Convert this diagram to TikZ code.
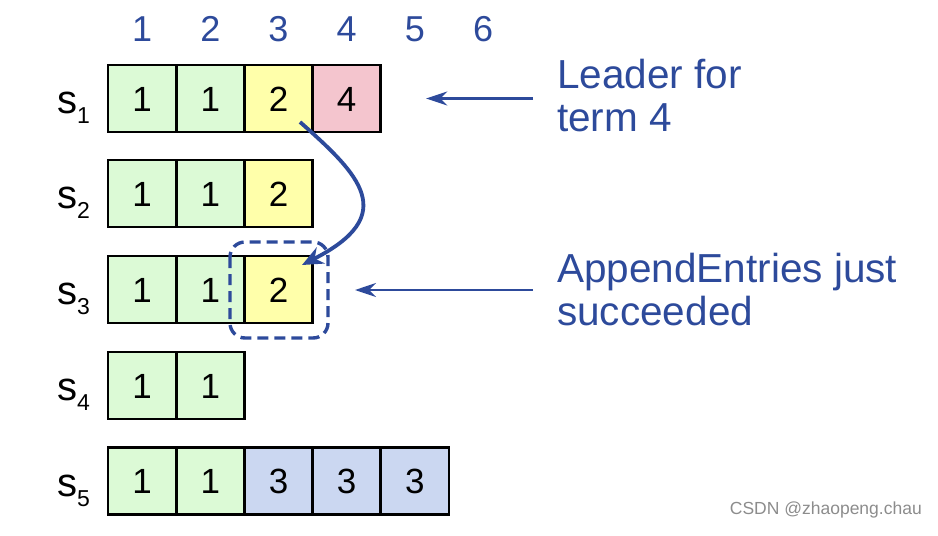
\documentclass[tikz,border=0pt]{standalone}
\usepackage{fontspec}
\setmainfont{Liberation Sans}
\usetikzlibrary{arrows.meta}
\definecolor{lblue}{HTML}{2D4A9B}
\definecolor{cgreen}{HTML}{DCFAD6}
\definecolor{cyellow}{HTML}{FFFFAA}
\definecolor{cpink}{HTML}{F4C5CE}
\definecolor{cblue}{HTML}{CBD7F1}
\tikzset{
  cellbox/.style={draw=black, line width=2.8pt, minimum width=68.2pt, minimum height=67pt,
    inner sep=0pt, text height=25pt, text depth=0pt, font=\fontsize{35}{35}\selectfont},
  gcell/.style={cellbox, fill=cgreen},
  ycell/.style={cellbox, fill=cyellow},
  pcell/.style={cellbox, fill=cpink},
  bcell/.style={cellbox, fill=cblue},
  hdr/.style={anchor=base, text=lblue, inner sep=0pt, font=\fontsize{36}{36}\selectfont},
  srv/.style={anchor=base west, inner sep=0pt, font=\fontsize{40}{40}\selectfont},
  note/.style={anchor=north west, inner sep=0pt, align=left, text=lblue, font=\fontsize{40.5}{42.5}\selectfont},
  thinarr/.style={draw=lblue, line width=2.4pt, -{Stealth[length=21pt,width=14pt]}},
  curvearr/.style={draw=lblue, line width=3.8pt, -{Stealth[length=21pt,width=18pt]}},
  dashbox/.style={draw=lblue, line width=3.4pt, dash pattern=on 11pt off 6pt, rounded corners=15pt}
}
\newcommand{\sub}[1]{\raisebox{-10pt}{\fontsize{23}{23}\selectfont #1}}
\begin{document}
\begin{tikzpicture}[x=1pt,y=-1pt]
\useasboundingbox (0,0) rectangle (938,536);
% column headers
\foreach \i in {1,...,6} {
  \node[hdr] (h\i) at ({108+68.2*(\i-0.5)},41) {\i};
}
% server labels
\foreach \i/\yy in {1/113,2/208,3/304,4/400,5/496} {
  \node[srv] (s\i) at (57,\yy) {s\sub{\i}};
}
% s1
\node[gcell] (c11) at (142.1,98.5) {1};
\node[gcell] (c12) at (210.3,98.5) {1};
\node[ycell] (c13) at (278.5,98.5) {2};
\node[pcell] (c14) at (346.7,98.5) {4};
% s2
\node[gcell] (c21) at (142.1,193.5) {1};
\node[gcell] (c22) at (210.3,193.5) {1};
\node[ycell] (c23) at (278.5,193.5) {2};
% s3
\node[gcell] (c31) at (142.1,289.5) {1};
\node[gcell] (c32) at (210.3,289.5) {1};
\node[ycell] (c33) at (278.5,289.5) {2};
% s4
\node[gcell] (c41) at (142.1,385.5) {1};
\node[gcell] (c42) at (210.3,385.5) {1};
% s5
\node[gcell] (c51) at (142.1,481) {1};
\node[gcell] (c52) at (210.3,481) {1};
\node[bcell] (c53) at (278.5,481) {3};
\node[bcell] (c54) at (346.7,481) {3};
\node[bcell] (c55) at (414.9,481) {3};
% dashed highlight
\draw[dashbox] (230,242) rectangle (328,338);
\coordinate (dbeast) at (328,290);
% notes
\node[note] (lead) at (557,59) {Leader for\\term 4};
\node[note] (app) at (557,253) {AppendEntries just\\succeeded};
\coordinate (lt) at (533,98.5);
\coordinate (at) at (533,290);
\draw[thinarr] (lt) -- ([xshift=44pt]c14.east);
\draw[thinarr] (at) -- ([xshift=27pt]dbeast);
% curved arrow
\coordinate (cs) at (300,122);
\coordinate (ce) at (302,265);
\draw[curvearr] (cs) .. controls (360,175) and (400,215) .. (ce);
% watermark
\node[anchor=base east, inner sep=0pt, text=black!45, font=\fontsize{17.5}{17.5}\selectfont] (wm) at (922,514) {CSDN @zhaopeng.chau};
\end{tikzpicture}
\end{document}
